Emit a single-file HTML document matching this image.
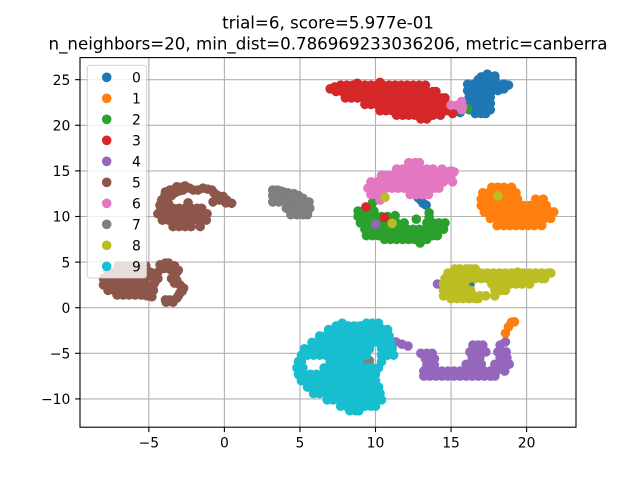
<!DOCTYPE html>
<html>
<head>
<meta charset="utf-8">
<title>trial=6 scatter</title>
<style>
html,body{margin:0;padding:0;background:#fff;}
svg{display:block;}
text{font-family:"DejaVu Sans","Liberation Sans",sans-serif;fill:#000;}
</style>
</head>
<body>
<svg id="chart" xmlns="http://www.w3.org/2000/svg" width="640" height="480" viewBox="0 0 640 480">
  <rect x="0" y="0" width="640" height="480" fill="#fff"/>
  <rect x="80" y="57.6" width="496" height="369.6" fill="#fff"/>
  <g id="grid"></g>
  <g id="marks"></g>
  <g id="ticks"></g>
  <rect x="80" y="57.6" width="496" height="369.6" fill="none" stroke="#000" stroke-width="1.1"/>
  <text x="328" y="28.5" font-size="16.67" text-anchor="middle">trial=6, score=5.977e-01</text>
  <text x="328" y="49.3" font-size="16.67" text-anchor="middle">n_neighbors=20, min_dist=0.786969233036206, metric=canberra</text>
  <g id="legend">
    <rect x="87.3" y="65.3" width="59.2" height="212.7" rx="2.8" ry="2.8" fill="#fff" fill-opacity="0.8" stroke="#ccc" stroke-opacity="0.8" stroke-width="1.1"/>
  </g>
</svg>
<script>
const categories = ["0","1","2","3","4","5","6","7","8","9"];
const colors = ["#1f77b4","#ff7f0e","#2ca02c","#d62728","#9467bd","#8c564b","#e377c2","#7f7f7f","#bcbd22","#17becf"];
const xTickValues = [-5,0,5,10,15,20];
const yTickValues = [-10,-5,0,5,10,15,20,25];
const xDomain = [-9.556,23.27];
const yDomain = [-13.1,27.42];

const series0 = [[17.4,25.6],[17.0,25.3],[17.4,25.3],[17.9,25.4],[16.8,25.0],[17.2,25.0],[17.6,25.0],[17.9,25.0],[16.1,24.5],[16.5,24.5],[16.9,24.5],[17.3,24.5],[17.7,24.5],[18.1,24.5],[18.5,24.5],[18.8,24.4],[16.1,23.8],[16.5,23.8],[16.9,23.8],[17.3,23.8],[17.7,23.8],[18.1,23.8],[18.5,24.0],[16.2,23.1],[16.6,23.1],[17.0,23.1],[17.4,23.1],[17.6,23.1],[16.2,22.4],[16.6,22.4],[17.0,22.4],[17.4,22.4],[17.6,22.4],[16.2,21.7],[16.6,21.7],[17.0,21.7],[17.4,21.7],[17.6,21.7],[16.6,21.3],[17.0,21.3],[17.3,21.3],[15.6,21.4],[12.6,12.55],[12.8,12.1],[13.0,11.8],[13.15,11.45],[13.35,11.25],[16.25,2.55]];
const series1 = [[17.7,13.2],[18.1,13.2],[18.5,13.2],[19.0,13.2],[17.1,12.6],[17.5,12.6],[17.9,12.6],[18.3,12.6],[18.7,12.6],[19.1,12.6],[19.3,12.6],[17.0,11.9],[17.4,11.9],[17.8,11.9],[18.2,11.9],[18.6,11.9],[19.0,11.9],[19.4,11.9],[20.6,11.9],[21.1,11.9],[17.0,11.2],[17.4,11.2],[17.8,11.2],[18.2,11.2],[18.6,11.2],[19.0,11.2],[19.4,11.2],[19.8,11.2],[20.2,11.2],[20.6,11.2],[21.0,11.2],[21.3,11.2],[17.2,10.5],[17.6,10.5],[18.0,10.5],[18.4,10.5],[18.8,10.5],[19.2,10.5],[19.6,10.5],[20.0,10.5],[20.4,10.5],[20.8,10.5],[21.2,10.5],[21.6,10.5],[21.8,10.5],[17.6,9.8],[18.0,9.8],[18.4,9.8],[18.8,9.8],[19.2,9.8],[19.6,9.8],[20.0,9.8],[20.4,9.8],[20.8,9.8],[21.2,9.8],[21.6,9.8],[18.05,9.0],[18.5,9.0],[18.9,9.0],[19.3,9.0],[19.7,9.0],[20.1,9.0],[20.5,9.0],[21.0,9.0],[19.2,-1.55],[19.0,-1.6],[18.8,-2.1],[18.6,-2.8]];
const series2 = [[16.1,21.8],[9.8,11.5],[8.85,10.6],[9.2,10.6],[9.6,10.6],[9.9,10.6],[8.85,10.0],[9.2,10.0],[9.6,10.0],[10.0,10.0],[10.4,10.0],[10.8,10.0],[11.3,10.1],[13.55,10.4],[13.55,9.9],[12.7,9.7],[9.0,9.3],[9.4,9.3],[9.8,9.3],[10.2,9.3],[10.6,9.3],[11.0,9.3],[11.4,9.3],[11.9,9.3],[13.4,9.3],[13.8,9.3],[14.2,9.3],[14.6,9.3],[9.3,8.6],[9.7,8.6],[10.1,8.6],[10.5,8.6],[10.9,8.6],[11.3,8.6],[11.7,8.6],[12.1,8.6],[12.5,8.6],[12.9,8.6],[13.3,8.6],[13.7,8.6],[14.1,8.6],[14.5,8.6],[9.4,7.9],[9.8,7.9],[10.2,7.9],[10.6,7.9],[11.0,7.9],[11.4,7.9],[11.8,7.9],[12.2,7.9],[12.6,7.9],[13.0,7.9],[13.4,7.9],[13.8,7.9],[14.1,7.9],[10.6,7.5],[11.0,7.5],[11.4,7.5],[11.8,7.5],[12.2,7.5],[12.6,7.5],[13.0,7.5],[13.4,7.5],[12.95,7.1]];
const series3 = [[8.8,24.6],[10.3,24.7],[7.7,24.4],[8.1,24.4],[8.5,24.4],[8.9,24.4],[9.3,24.4],[9.7,24.4],[10.1,24.4],[10.5,24.4],[10.9,24.4],[11.3,24.4],[11.7,24.4],[12.1,24.4],[12.5,24.4],[12.9,24.4],[13.3,24.4],[7.0,24.0],[7.3,24.2],[7.4,23.7],[7.8,23.7],[8.2,23.7],[8.6,23.7],[9.0,23.7],[9.4,23.7],[9.8,23.7],[10.2,23.7],[10.6,23.7],[11.0,23.7],[11.4,23.7],[11.8,23.7],[12.2,23.7],[12.6,23.7],[13.0,23.7],[13.4,23.7],[13.8,23.7],[14.0,23.7],[8.0,23.0],[8.4,23.0],[8.8,23.0],[9.2,23.0],[9.6,23.0],[10.0,23.0],[10.4,23.0],[10.8,23.0],[11.2,23.0],[11.6,23.0],[12.0,23.0],[12.4,23.0],[12.8,23.0],[13.2,23.0],[13.6,23.0],[14.0,23.0],[14.4,23.0],[14.6,23.0],[9.3,22.3],[9.7,22.3],[10.1,22.3],[10.5,22.3],[10.9,22.3],[11.3,22.3],[11.7,22.3],[12.1,22.3],[12.5,22.3],[12.9,22.3],[13.3,22.3],[13.7,22.3],[14.1,22.3],[14.5,22.3],[14.7,22.3],[10.3,21.6],[10.7,21.6],[11.1,21.6],[11.5,21.6],[11.9,21.6],[12.3,21.6],[12.7,21.6],[13.1,21.6],[13.5,21.6],[13.9,21.6],[14.3,21.6],[14.7,21.6],[15.0,21.6],[11.4,21.1],[11.8,21.1],[12.2,21.1],[12.6,21.1],[13.0,21.1],[13.4,21.1],[13.8,21.1],[14.3,21.1],[15.1,21.3],[13.0,20.7],[13.4,20.7],[9.37,11.05],[10.58,9.9]];
const series4 = [[10.0,9.15],[14.1,2.6],[11.0,-3.65],[11.35,-3.75],[11.75,-4.0],[12.15,-4.2],[13.0,-5.0],[13.4,-5.0],[13.75,-5.0],[13.3,-5.6],[13.7,-5.6],[13.9,-5.6],[13.4,-6.3],[13.9,-6.3],[16.45,-4.1],[16.8,-4.1],[17.1,-4.1],[18.25,-4.1],[18.6,-3.75],[16.25,-4.85],[16.6,-4.85],[17.0,-4.85],[17.3,-4.85],[18.1,-4.85],[18.4,-4.85],[18.65,-4.85],[16.4,-5.5],[16.9,-5.5],[18.25,-5.5],[18.7,-5.5],[16.0,-6.2],[16.4,-6.2],[16.8,-6.2],[17.0,-6.2],[17.9,-6.2],[18.3,-6.2],[18.7,-6.2],[18.85,-6.2],[13.2,-6.95],[13.6,-6.95],[14.0,-6.95],[14.4,-6.95],[14.8,-6.95],[15.2,-6.95],[15.6,-6.95],[16.0,-6.95],[16.4,-6.95],[16.8,-6.95],[17.2,-6.95],[17.6,-6.95],[18.0,-6.95],[18.55,-6.95],[13.2,-7.5],[13.6,-7.5],[14.0,-7.5],[14.4,-7.5],[14.8,-7.5],[15.2,-7.5],[15.6,-7.5],[16.0,-7.5],[16.4,-7.5],[16.8,-7.5],[17.2,-7.5],[17.6,-7.5],[17.9,-7.5]];
const series5 = [[-4.26,11.25],[-4.15,11.8],[-3.93,12.35],[-3.6,12.9],[-3.16,13.25],[-2.6,13.35],[-2.3,13.1],[-2.06,12.9],[-3.73,12.0],[-3.5,12.3],[-3.27,12.6],[-3.0,12.8],[-2.74,12.9],[-3.7,11.4],[-3.9,11.5],[-3.9,12.7],[-3.3,13.0],[-2.9,13.2],[-1.75,12.9],[-1.42,13.1],[-1.1,13.0],[-0.84,12.9],[-0.7,12.6],[-0.5,12.35],[-0.4,12.1],[-0.09,12.2],[-0.75,11.6],[-0.3,11.8],[0.15,11.8],[0.1,11.5],[0.48,11.45],[-2.4,11.5],[-4.2,10.9],[-3.8,10.9],[-3.4,10.9],[-3.0,10.9],[-2.6,10.9],[-2.2,10.9],[-1.8,10.9],[-1.5,10.9],[-4.4,10.3],[-4.0,10.3],[-3.6,10.3],[-3.2,10.3],[-2.8,10.3],[-2.4,10.3],[-2.0,10.3],[-1.6,10.3],[-1.15,10.3],[-4.1,9.6],[-3.7,9.6],[-3.3,9.6],[-2.9,9.6],[-2.5,9.6],[-2.1,9.6],[-1.7,9.6],[-1.2,9.6],[-3.4,8.9],[-3.0,8.9],[-2.6,8.9],[-2.2,8.9],[-1.6,8.9],[-7.0,4.6],[-6.6,4.6],[-6.2,4.6],[-5.8,4.6],[-5.4,4.6],[-5.2,4.6],[-7.7,3.9],[-7.3,3.9],[-6.9,3.9],[-6.5,3.9],[-6.1,3.9],[-5.7,3.9],[-5.3,3.9],[-4.9,3.9],[-8.0,3.2],[-7.6,3.2],[-7.2,3.2],[-6.8,3.2],[-6.4,3.2],[-6.0,3.2],[-5.6,3.2],[-5.2,3.2],[-4.6,3.2],[-8.0,2.5],[-7.6,2.5],[-7.2,2.5],[-6.8,2.5],[-6.4,2.5],[-6.0,2.5],[-5.6,2.5],[-5.2,2.5],[-4.7,2.5],[-7.7,1.9],[-7.3,1.9],[-6.9,1.9],[-6.5,1.9],[-6.1,1.9],[-5.7,1.9],[-5.3,1.9],[-4.7,1.9],[-7.1,1.4],[-6.7,1.4],[-6.3,1.4],[-5.9,1.4],[-5.5,1.4],[-5.3,1.4],[-5.1,1.3],[-4.8,1.2],[-4.26,4.7],[-3.9,4.9],[-3.7,4.9],[-3.3,4.6],[-3.05,4.1],[-4.4,3.9],[-4.0,4.3],[-3.6,4.2],[-3.2,3.8],[-4.4,3.2],[-3.5,3.2],[-3.15,3.0],[-3.3,2.7],[-2.95,2.5],[-2.7,2.15],[-2.8,1.8],[-2.95,1.6],[-3.05,1.3],[-3.15,1.05],[-3.6,0.85],[-3.9,0.85],[-3.4,0.6],[-3.85,0.6],[-4.6,2.8]];
const series6 = [[15.0,22.2],[15.4,22.2],[15.7,22.6],[15.75,22.05],[15.7,21.7],[12.2,15.9],[12.6,15.9],[12.9,15.9],[11.4,15.2],[11.8,15.2],[12.2,15.2],[12.6,15.2],[13.0,15.2],[13.4,15.2],[13.8,15.2],[14.4,15.2],[14.8,14.9],[15.0,15.0],[15.2,14.9],[10.4,14.5],[10.8,14.5],[11.2,14.5],[11.6,14.5],[12.0,14.5],[12.4,14.5],[12.8,14.5],[13.2,14.5],[13.6,14.5],[14.0,14.5],[14.4,14.5],[14.8,14.5],[15.0,14.5],[9.7,13.8],[10.1,13.8],[10.5,13.8],[10.9,13.8],[11.3,13.8],[11.7,13.8],[12.1,13.8],[12.5,13.8],[12.9,13.8],[13.3,13.8],[13.7,13.8],[14.1,13.8],[14.5,13.8],[15.1,13.8],[9.5,13.1],[9.9,13.1],[10.3,13.1],[10.7,13.1],[11.1,13.1],[11.5,13.1],[11.9,13.1],[12.3,13.1],[12.7,13.1],[13.1,13.1],[13.5,13.1],[13.9,13.1],[14.2,13.1],[9.7,12.4],[10.1,12.4],[10.3,12.4],[12.3,12.4],[12.7,12.4],[13.1,12.4],[13.5,12.4],[10.3,11.8]];
const series7 = [[3.2,12.9],[3.5,12.9],[3.7,12.8],[3.9,12.7],[4.2,12.6],[4.6,12.5],[3.2,12.3],[3.6,12.3],[4.0,12.3],[4.4,12.3],[4.9,12.3],[5.2,12.0],[3.2,11.6],[3.6,11.6],[4.0,11.6],[4.4,11.6],[4.8,11.6],[5.2,11.6],[5.6,11.6],[4.1,10.9],[4.5,10.9],[4.9,10.9],[5.3,10.9],[5.65,10.9],[4.4,10.2],[4.8,10.2],[5.2,10.2],[5.5,10.2],[9.6,-5.8],[9.4,-5.9]];
const series8 = [[18.1,12.25],[10.63,12.1],[11.1,9.25],[15.25,4.25],[15.6,4.25],[16.0,4.25],[16.3,4.25],[16.6,4.25],[14.8,3.8],[15.2,3.8],[15.6,3.8],[16.0,3.8],[16.4,3.8],[16.8,3.8],[17.0,3.8],[17.4,3.8],[17.8,3.8],[18.2,3.8],[18.6,3.8],[19.0,3.8],[19.4,3.9],[19.8,3.8],[20.2,3.8],[20.6,3.8],[21.0,3.8],[21.4,3.8],[21.6,3.8],[14.6,3.2],[15.0,3.2],[15.4,3.2],[15.8,3.2],[16.2,3.2],[16.6,3.2],[17.0,3.2],[17.4,3.2],[17.8,3.2],[18.2,3.2],[18.6,3.2],[19.0,3.2],[19.4,3.2],[19.8,3.2],[20.2,3.2],[20.6,3.2],[21.0,3.2],[21.2,3.2],[14.5,2.6],[14.9,2.6],[15.3,2.6],[15.7,2.6],[15.9,2.6],[17.7,2.6],[18.1,2.6],[18.5,2.6],[18.9,2.6],[19.3,2.6],[19.7,2.6],[20.2,2.6],[14.5,1.9],[14.9,1.9],[15.3,1.9],[15.7,1.9],[16.1,1.9],[16.3,1.9],[17.9,1.9],[18.3,1.9],[18.6,1.9],[14.5,1.3],[14.9,1.3],[15.3,1.3],[15.7,1.3],[16.1,1.3],[16.5,1.3],[16.9,1.3],[17.3,1.3],[17.9,1.3],[15.0,1.0],[15.4,1.0],[15.8,1.0],[16.2,1.0],[16.6,1.0],[16.8,1.0]];
const series9 = [[7.8,-1.7],[9.4,-1.7],[9.8,-1.7],[10.2,-1.7],[7.4,-2.0],[8.2,-2.0],[8.6,-2.0],[9.0,-2.0],[6.9,-2.4],[7.3,-2.4],[7.7,-2.4],[8.1,-2.4],[8.5,-2.4],[8.9,-2.4],[9.3,-2.4],[9.7,-2.4],[10.1,-2.4],[10.5,-2.4],[10.8,-2.4],[6.3,-3.1],[6.7,-3.1],[7.1,-3.1],[7.5,-3.1],[7.9,-3.1],[8.3,-3.1],[8.7,-3.1],[9.1,-3.1],[9.5,-3.1],[9.9,-3.1],[10.3,-3.1],[10.7,-3.1],[10.9,-3.1],[5.8,-3.8],[6.2,-3.8],[6.6,-3.8],[7.0,-3.8],[7.4,-3.8],[7.8,-3.8],[8.2,-3.8],[8.6,-3.8],[9.0,-3.8],[9.4,-3.8],[9.8,-3.8],[10.2,-3.8],[10.6,-3.8],[11.0,-3.8],[5.3,-4.5],[5.7,-4.5],[6.1,-4.5],[6.5,-4.5],[6.9,-4.5],[7.3,-4.5],[7.7,-4.5],[8.1,-4.5],[8.5,-4.5],[8.9,-4.5],[9.3,-4.5],[9.6,-4.5],[10.4,-4.5],[10.8,-4.5],[11.1,-4.5],[5.1,-5.2],[5.5,-5.2],[5.9,-5.2],[6.3,-5.2],[6.7,-5.2],[7.1,-5.2],[7.5,-5.2],[7.9,-5.2],[8.3,-5.2],[8.7,-5.2],[9.1,-5.2],[9.4,-5.2],[10.4,-5.2],[10.8,-5.2],[11.2,-5.2],[4.9,-5.9],[5.1,-5.9],[7.0,-5.9],[7.4,-5.9],[7.8,-5.9],[8.2,-5.9],[8.6,-5.9],[8.9,-5.9],[10.4,-5.9],[4.8,-6.6],[5.2,-6.6],[6.6,-6.6],[7.0,-6.6],[7.4,-6.6],[7.8,-6.6],[8.2,-6.6],[8.6,-6.6],[9.0,-6.6],[9.4,-6.6],[9.8,-6.6],[10.2,-6.6],[4.9,-7.3],[5.3,-7.3],[5.7,-7.3],[6.1,-7.3],[6.5,-7.3],[6.9,-7.3],[7.3,-7.3],[7.7,-7.3],[8.1,-7.3],[8.5,-7.3],[8.9,-7.3],[9.3,-7.3],[9.7,-7.3],[10.0,-7.3],[5.1,-8.0],[5.5,-8.0],[5.9,-8.0],[6.3,-8.0],[6.7,-8.0],[7.1,-8.0],[7.5,-8.0],[7.9,-8.0],[8.3,-8.0],[8.7,-8.0],[9.1,-8.0],[9.5,-8.0],[10.0,-8.0],[5.5,-8.7],[5.9,-8.7],[6.3,-8.7],[6.7,-8.7],[7.1,-8.7],[7.5,-8.7],[7.9,-8.7],[8.3,-8.7],[8.7,-8.7],[9.1,-8.7],[9.5,-8.7],[9.9,-8.7],[10.2,-8.7],[5.9,-9.4],[6.3,-9.4],[6.7,-9.4],[7.1,-9.4],[7.5,-9.4],[7.9,-9.4],[8.3,-9.4],[8.7,-9.4],[9.1,-9.4],[9.5,-9.4],[9.9,-9.4],[10.3,-9.4],[6.8,-10.1],[7.2,-10.1],[7.6,-10.1],[8.0,-10.1],[8.4,-10.1],[8.8,-10.1],[9.2,-10.1],[9.6,-10.1],[10.0,-10.1],[10.4,-10.1],[7.7,-10.8],[8.1,-10.8],[8.5,-10.8],[8.9,-10.8],[9.3,-10.8],[9.7,-10.8],[10.0,-10.8],[8.3,-11.3],[8.7,-11.3],[8.9,-11.3]];
const allSeries = [series0,series1,series2,series3,series4,series5,series6,series7,series8,series9];

const NS = "http://www.w3.org/2000/svg";
function xScale(v){ return 80 + (v - xDomain[0]) / (xDomain[1] - xDomain[0]) * 496; }
function yScale(v){ return 427.2 - (v - yDomain[0]) / (yDomain[1] - yDomain[0]) * 369.6; }
function fmt(v){ return v < 0 ? "\u2212" + Math.abs(v) : String(v); }
function make(tag, attrs){
  const el = document.createElementNS(NS, tag);
  for (const k in attrs) el.setAttribute(k, attrs[k]);
  return el;
}
const grid = document.getElementById("grid");
const ticks = document.getElementById("ticks");
const marks = document.getElementById("marks");
const legend = document.getElementById("legend");

xTickValues.forEach(function(v){
  const px = xScale(v);
  const g = make("line", {x1:px, x2:px, y1:57.6, y2:427.2, stroke:"#b0b0b0", "stroke-width":1.1});
  
  
  grid.appendChild(g);
  const t = make("line", {x1:px, x2:px, y1:427.2, y2:432.1, stroke:"#000", "stroke-width":1.1});
  
  
  ticks.appendChild(t);
  const l = make("text", {x:px, y:447.4, "font-size":13.89, "text-anchor":"middle"});
  
  
  l.textContent = fmt(v);
  ticks.appendChild(l);
});
yTickValues.forEach(function(v){
  const py = yScale(v);
  const g = make("line", {x1:80, x2:576, y1:py, y2:py, stroke:"#b0b0b0", "stroke-width":1.1});
  
  
  grid.appendChild(g);
  const t = make("line", {x1:75.1, x2:80, y1:py, y2:py, stroke:"#000", "stroke-width":1.1});
  
  
  ticks.appendChild(t);
  const l = make("text", {x:70.3, y:py+5.2, "font-size":13.89, "text-anchor":"end"});
  
  
  l.textContent = fmt(v);
  ticks.appendChild(l);
});
allSeries.forEach(function(points, i){
  const group = make("g", {fill:colors[i]});
  
  
  points.forEach(function(p){
    const c = make("circle", {cx:xScale(p[0]), cy:yScale(p[1]), r:4.8});
    
    
    group.appendChild(c);
  });
  marks.appendChild(group);
});
categories.forEach(function(name, i){
  const rowY = 77.3 + 21 * i;
  const entry = make("g", {});
  
  
  const m = make("circle", {cx:106.7, cy:rowY, r:4.8, fill:colors[i]});
  
  
  entry.appendChild(m);
  const t = make("text", {x:132, y:rowY+5, "font-size":13.89});
  
  
  t.textContent = name;
  entry.appendChild(t);
  legend.appendChild(entry);
});
</script>
</body>
</html>
